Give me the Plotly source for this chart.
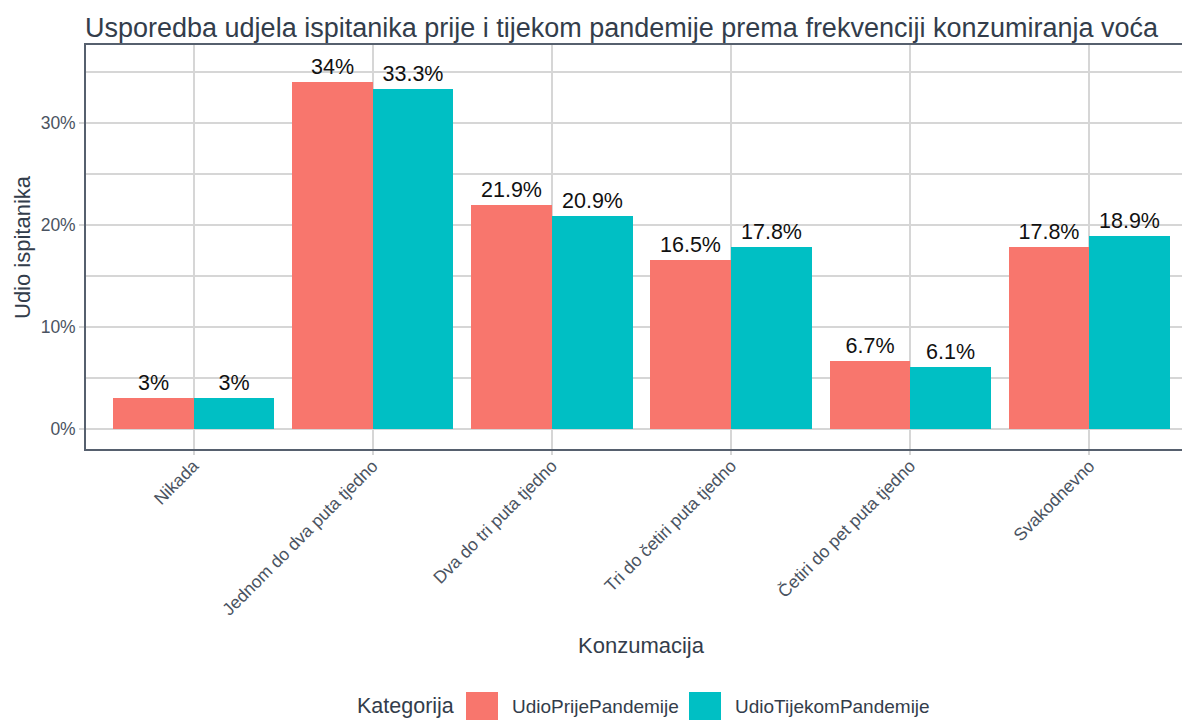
import plotly.graph_objects as go

categories = ["Nikada", "Jednom do dva puta tjedno", "Dva do tri puta tjedno",
              "Tri do četiri puta tjedno", "Četiri do pet puta tjedno", "Svakodnevno"]
udio_prije = [3.0, 34.0, 21.9, 16.5, 6.7, 17.8]
udio_tijekom = [3.0, 33.3, 20.9, 17.8, 6.1, 18.9]
series_names = ["UdioPrijePandemije", "UdioTijekomPandemije"]
series_colors = ["#F8766D", "#00BFC4"]
y_tick_vals = [0, 10, 20, 30]
y_tick_text = ["0%", "10%", "20%", "30%"]

FONT = "Liberation Sans, Arial, sans-serif"
TEXT = "#333d4b"
TICK = "#4a5361"
AXIS = "#56606e"
GRID = "#d6d6d6"

def fmt(v):
    return ("%g" % v) + "%"

# plot area geometry (figure px)
L, T, R, B = 78, 37, 1, 279
W, H = 1190, 720
PW, PH = W - L - R, H - T - B

def px(fx):
    return (fx - L) / PW

def py(fy):
    return (H - B - fy) / PH

idx = list(range(len(categories)))
fig = go.Figure()
for name, vals, col, off in [(series_names[0], udio_prije, series_colors[0], -0.225),
                             (series_names[1], udio_tijekom, series_colors[1], 0.225)]:
    fig.add_trace(go.Bar(
        x=[i + off for i in idx], y=vals, name=name, width=0.45,
        marker=dict(color=col, line=dict(width=0)),
        text=[fmt(v) for v in vals], textposition="outside",
        textfont=dict(family=FONT, size=21.5, color="#111111"),
        cliponaxis=False, showlegend=False,
    ))

fig.update_layout(
    width=W, height=H,
    margin=dict(l=L, r=R, t=T, b=B, autoexpand=False),
    paper_bgcolor="white", plot_bgcolor="white",
    barmode="overlay", bargap=0,
    font=dict(family=FONT, color=TICK),
    title=dict(text="Usporedba udjela ispitanika prije i tijekom pandemije prema frekvenciji konzumiranja voća",
               x=77/W, xanchor="left", y=1 - 20/H, yanchor="middle",
               font=dict(family=FONT, size=27, color=TEXT)),
    xaxis=dict(
        range=[-0.6, 5.6], tickmode="array", tickvals=idx, ticktext=categories,
        tickangle=-45, tickfont=dict(family=FONT, size=17.5, color=TICK),
        ticklabelstandoff=-6,
        showgrid=True, gridcolor=GRID, gridwidth=1.5,
        ticks="outside", ticklen=4, tickcolor=GRID, tickwidth=1.5,
        showline=True, linecolor=AXIS, linewidth=1.6, mirror=True,
        zeroline=False, automargin=False,
    ),
    yaxis=dict(
        range=[-1.96, 37.6], tickmode="array", tickvals=y_tick_vals, ticktext=y_tick_text,
        tickfont=dict(family=FONT, size=17.5, color=TICK),
        showgrid=True, gridcolor=GRID, gridwidth=1.5,
        minor=dict(dtick=5, tick0=0, showgrid=True, gridcolor=GRID, gridwidth=1.5),
        ticks="outside", ticklen=5, tickcolor=GRID, tickwidth=1.5,
        showline=True, linecolor=AXIS, linewidth=1.6, mirror=True,
        zeroline=False, automargin=False,
    ),
)

# Axis titles
fig.add_annotation(x=px(633), y=py(637), xref="paper", yref="paper", text="Konzumacija",
                   showarrow=False, xanchor="center", yanchor="middle",
                   font=dict(family=FONT, size=22, color=TEXT))
fig.add_annotation(x=px(14), y=py(239), xref="paper", yref="paper", text="Udio ispitanika",
                   showarrow=False, xanchor="center", yanchor="middle", textangle=-90,
                   font=dict(family=FONT, size=22, color=TEXT))

# Legend drawn in paper coordinates (ggplot-style large keys)
legend_y = 698
fig.add_annotation(x=px(347), y=py(legend_y), xref="paper", yref="paper",
                   text="Kategorija", showarrow=False, xanchor="left", yanchor="middle",
                   font=dict(family=FONT, size=21.5, color=TEXT))
key_x = [458, 681]
for kx, name, col in zip(key_x, series_names, series_colors):
    fig.add_shape(type="rect", xref="paper", yref="paper",
                  x0=px(kx), x1=px(kx + 32), y0=py(legend_y + 18), y1=py(legend_y - 14),
                  fillcolor=col, line=dict(width=0))
    fig.add_annotation(x=px(kx + 44), y=py(legend_y), xref="paper", yref="paper",
                       text=name, showarrow=False, xanchor="left", yanchor="middle",
                       font=dict(family=FONT, size=19, color=TEXT))

fig.write_html("out.html")
